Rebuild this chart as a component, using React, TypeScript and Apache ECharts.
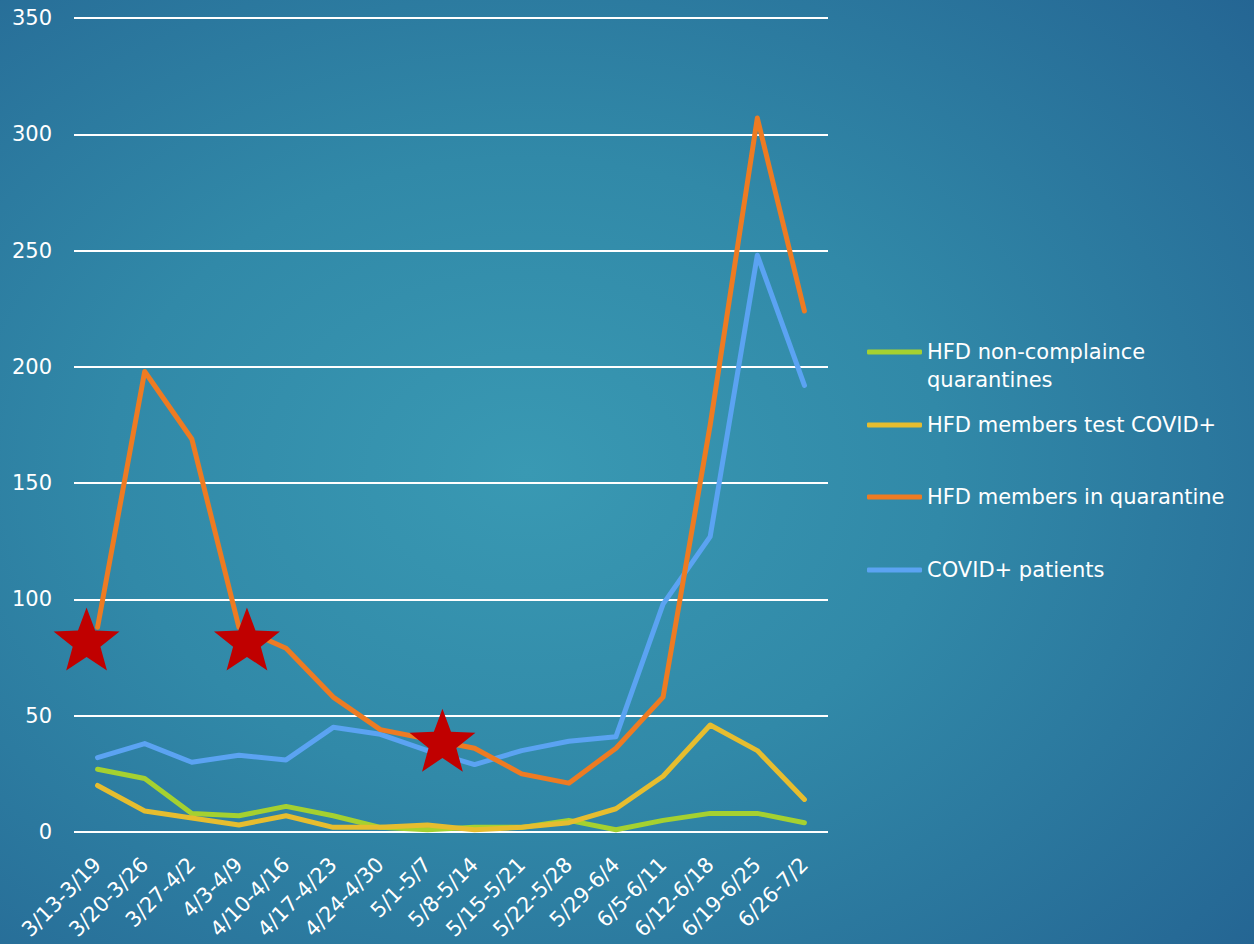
import React, { useEffect, useRef } from "react";
import * as echarts from "echarts";

const categories = [
  "3/13-3/19", "3/20-3/26", "3/27-4/2", "4/3-4/9", "4/10-4/16", "4/17-4/23",
  "4/24-4/30", "5/1-5/7", "5/8-5/14", "5/15-5/21", "5/22-5/28", "5/29-6/4",
  "6/5-6/11", "6/12-6/18", "6/19-6/25", "6/26-7/2",
];
const nonCompliance = [27, 23, 8, 7, 11, 7, 2, 1, 2, 2, 5, 1, 5, 8, 8, 4];
const testPositive = [20, 9, 6, 3, 7, 2, 2, 3, 1, 2, 4, 10, 24, 46, 35, 14];
const inQuarantine = [88, 198, 169, 88, 79, 58, 44, 40, 36, 25, 21, 36, 58, 175, 307, 224];
const covidPatients = [32, 38, 30, 33, 31, 45, 42, 35, 29, 35, 39, 41, 98, 127, 248, 192];

const starCategories = ["3/13-3/19", "4/3-4/9", "5/1-5/7"];
const starValues = [83, 83, 39.5];
const starOffsets = [[-11, 0], [8, 0], [15, 0]];

const seriesNames = [
  "HFD non-complaince quarantines",
  "HFD members test COVID+",
  "HFD members in quarantine",
  "COVID+ patients",
];
const colors = ["#A5D130", "#E6BD2F", "#EE7B22", "#5BA3F2"];

const STAR =
  "path://M50 0 L62.34 33.01 L97.55 34.55 L69.97 56.49 L79.39 90.45 L50 71 L20.61 90.45 L30.03 56.49 L2.45 34.55 L37.66 33.01 Z";

const FONT = "DejaVu Sans";

export default function App() {
  const ref = useRef<HTMLDivElement>(null);
  useEffect(() => {
    document.body.style.margin = "0";
    if (!ref.current) return;
    const chart = echarts.init(ref.current, null, { renderer: "svg" });
    const lineSeries = (name: string, data: number[], color: string) => ({
      name,
      type: "line",
      data,
      symbol: "none",
      smooth: false,
      itemStyle: { color },
      lineStyle: { color, width: 5, cap: "round", join: "round" },
    });
    const legendBase = {
      orient: "vertical",
      left: 867,
      padding: 0,
      icon: "roundRect",
      itemWidth: 55,
      itemHeight: 5,
      itemGap: 5,
      textStyle: { color: "#ffffff", fontFamily: FONT, fontSize: 21, lineHeight: 28 },
    };
    chart.setOption({
      animation: false,
      backgroundColor: {
        type: "radial",
        x: 0.42,
        y: 0.5,
        r: 0.95,
        colorStops: [
          { offset: 0, color: "#3999B3" },
          { offset: 0.35, color: "#3189A8" },
          { offset: 0.75, color: "#266A96" },
          { offset: 1, color: "#1F568A" },
        ],
      },
      grid: { left: 74, right: 426, top: 18, bottom: 112, containLabel: false },
      legend: [
        {
          ...legendBase,
          top: 310,
          data: [seriesNames[0]],
          formatter: () => "\nHFD non-complaince\nquarantines",
        },
        { ...legendBase, top: 411, data: [seriesNames[1]] },
        { ...legendBase, top: 483, data: [seriesNames[2]] },
        { ...legendBase, top: 556, data: [seriesNames[3]] },
      ],
      xAxis: {
        type: "category",
        data: categories,
        boundaryGap: true,
        axisLine: { show: false },
        axisTick: { show: false },
        axisLabel: {
          rotate: 45,
          interval: 0,
          margin: 29,
          color: "#ffffff",
          fontFamily: FONT,
          fontSize: 21,
        },
      },
      yAxis: {
        type: "value",
        min: 0,
        max: 350,
        interval: 50,
        axisLine: { show: false },
        axisTick: { show: false },
        axisLabel: { margin: 22, color: "#ffffff", fontFamily: FONT, fontSize: 21 },
        splitLine: { lineStyle: { color: "#ffffff", width: 2 } },
      },
      series: [
        lineSeries(seriesNames[0], nonCompliance, colors[0]),
        lineSeries(seriesNames[1], testPositive, colors[1]),
        lineSeries(seriesNames[3], covidPatients, colors[3]),
        lineSeries(seriesNames[2], inQuarantine, colors[2]),
        {
          name: "stars",
          type: "scatter",
          symbol: STAR,
          symbolSize: [66, 63],
          z: 10,
          itemStyle: { color: "#C00000", opacity: 1 },
          data: starCategories.map((c, i) => ({
            value: [c, starValues[i]],
            symbolOffset: starOffsets[i],
          })),
          silent: true,
        },
      ],
    });
    return () => chart.dispose();
  }, []);
  return <div ref={ref} style={{ width: 1254, height: 944 }} />;
}
